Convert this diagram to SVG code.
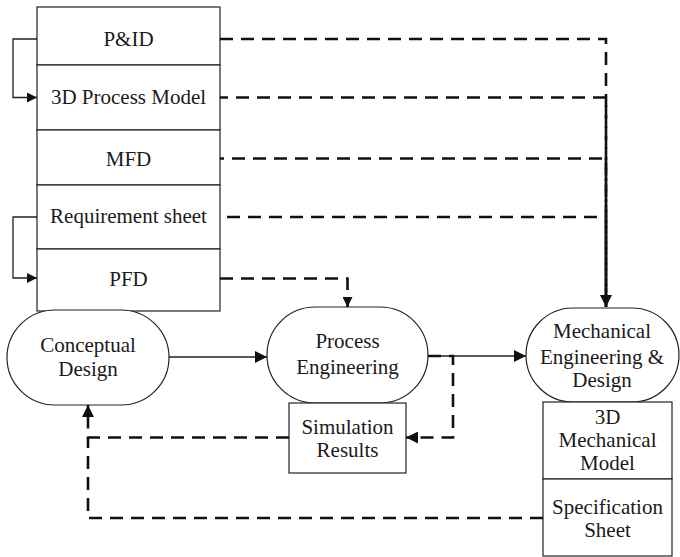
<svg xmlns="http://www.w3.org/2000/svg" width="680" height="557" viewBox="0 0 680 557">
  <defs>
    <marker id="head" viewBox="0 0 10 10" refX="10" refY="5" markerWidth="10" markerHeight="10" markerUnits="userSpaceOnUse" orient="auto">
      <path d="M0,0 L10,5 L0,10 Z" fill="#111"/>
    </marker>
    <marker id="headL" viewBox="0 0 12 12" refX="12" refY="6" markerWidth="12" markerHeight="12" markerUnits="userSpaceOnUse" orient="auto">
      <path d="M0,0 L12,6 L0,12 Z" fill="#111"/>
    </marker>
  </defs>
  <style>
    .box { fill: #fff; stroke: #222; stroke-width: 1.2; }
    .lbl { font-family: "Liberation Serif", "Times New Roman", serif; font-size: 21px; fill: #1a1a1a; text-anchor: middle; }
    .solid { fill: none; stroke: #222; stroke-width: 1.3; }
    .dash { fill: none; stroke: #111; stroke-width: 2.6; stroke-dasharray: 13 8; }
  </style>

  <!-- stacked document column -->
  <g id="pid">
    <rect class="box" x="37" y="7" width="183" height="58"/>
    <text class="lbl" x="128.5" y="45.5">P&amp;ID</text>
  </g>
  <g id="process-model-3d">
    <rect class="box" x="37" y="65" width="183" height="65"/>
    <text class="lbl" x="128.5" y="103.5">3D Process Model</text>
  </g>
  <g id="mfd">
    <rect class="box" x="37" y="130" width="183" height="55"/>
    <text class="lbl" x="128.5" y="165.5">MFD</text>
  </g>
  <g id="requirement-sheet">
    <rect class="box" x="37" y="185" width="183" height="64"/>
    <text class="lbl" x="128.5" y="223">Requirement sheet</text>
  </g>
  <g id="pfd">
    <rect class="box" x="37" y="249" width="183" height="62"/>
    <text class="lbl" x="128.5" y="285.5">PFD</text>
  </g>

  <!-- phase nodes -->
  <g id="conceptual-design">
    <rect class="box" x="7" y="310" width="162" height="95" rx="48" ry="47.5"/>
    <text class="lbl" x="88" y="352">Conceptual</text>
    <text class="lbl" x="88" y="376">Design</text>
  </g>
  <g id="process-engineering">
    <rect class="box" x="267" y="307" width="161" height="96" rx="48" ry="48"/>
    <text class="lbl" x="347.5" y="348">Process</text>
    <text class="lbl" x="347.5" y="374">Engineering</text>
  </g>
  <g id="simulation-results">
    <rect class="box" x="289" y="403" width="117" height="70"/>
    <text class="lbl" x="347.5" y="434">Simulation</text>
    <text class="lbl" x="347.5" y="457">Results</text>
  </g>
  <g id="mechanical-engineering">
    <rect class="box" x="526" y="308" width="153" height="94" rx="47" ry="47"/>
    <text class="lbl" x="602" y="338">Mechanical</text>
    <text class="lbl" x="602" y="364">Engineering &amp;</text>
    <text class="lbl" x="602" y="387">Design</text>
  </g>
  <g id="mechanical-model-3d">
    <rect class="box" x="543" y="402" width="129" height="77"/>
    <text class="lbl" x="607.5" y="424">3D</text>
    <text class="lbl" x="607.5" y="447">Mechanical</text>
    <text class="lbl" x="607.5" y="470">Model</text>
  </g>
  <g id="specification-sheet">
    <rect class="box" x="543" y="479" width="129" height="77"/>
    <text class="lbl" x="607.5" y="514">Specification</text>
    <text class="lbl" x="607.5" y="537">Sheet</text>
  </g>

  <!-- connectors -->
  <g id="connectors">
    <path class="solid" d="M37,39 H13 V97.5 H37" marker-end="url(#head)"/>
    <path class="solid" d="M37,217 H13 V278 H37" marker-end="url(#head)"/>
    <path class="solid" d="M169,357 H267" marker-end="url(#headL)"/>
    <path class="solid" d="M428,356 H526" marker-end="url(#headL)"/>

    <path class="dash" d="M220,39 H606 V307" marker-end="url(#headL)"/>
    <path class="dash" d="M220,97.5 H606 V307" stroke-dashoffset="5"/>
    <path class="dash" d="M220,158.5 H606 V307" stroke-dashoffset="9"/>
    <path class="dash" d="M220,217 H606 V307" stroke-dashoffset="14"/>
    <path class="dash" d="M220,278.5 H347.5 V307" marker-end="url(#head)"/>
    <path class="dash" d="M428,356 H453 V437.5 H406" marker-end="url(#headL)"/>
    <path class="dash" d="M289,437.5 H88 V405" marker-end="url(#headL)"/>
    <path class="dash" d="M543,518 H88 V437.5"/>
  </g>
</svg>
